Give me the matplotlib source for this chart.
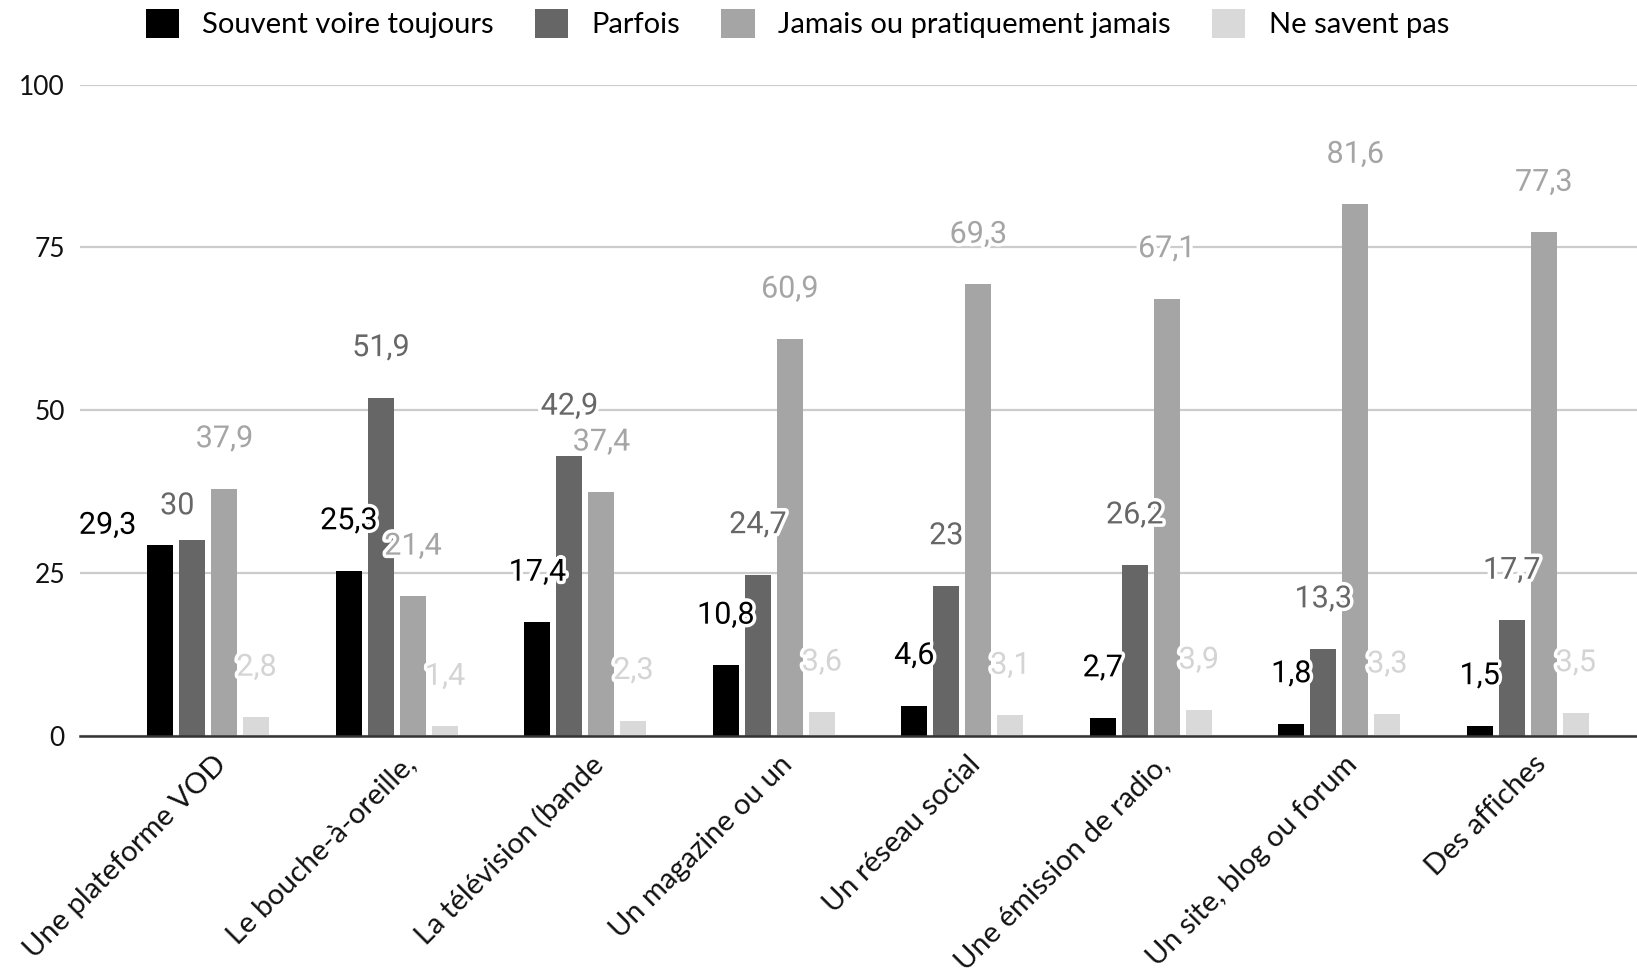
import numpy as np
import matplotlib
matplotlib.use('Agg')
import matplotlib.pyplot as plt
import matplotlib.patheffects as pe
from matplotlib.patches import Patch
from matplotlib.transforms import ScaledTranslation

# DONNEES
categories = ['Une plateforme VOD', 'Le bouche-à-oreille,', 'La télévision (bande',
              'Un magazine ou un', 'Un réseau social', 'Une émission de radio,',
              'Un site, blog ou forum', 'Des affiches']
series_names = ['Souvent voire toujours', 'Parfois',
                'Jamais ou pratiquement jamais', 'Ne savent pas']
souvent = [29.3, 25.3, 17.4, 10.8, 4.6, 2.7, 1.8, 1.5]
parfois = [30, 51.9, 42.9, 24.7, 23, 26.2, 13.3, 17.7]
jamais = [37.9, 21.4, 37.4, 60.9, 69.3, 67.1, 81.6, 77.3]
ne_savent_pas = [2.8, 1.4, 2.3, 3.6, 3.1, 3.9, 3.3, 3.5]
yticks = [0, 25, 50, 75, 100]

series = [souvent, parfois, jamais, ne_savent_pas]
bar_colors = ['#000000', '#666666', '#a5a5a5', '#d9d9d9']
label_colors = ['#000000', '#676767', '#a5a5a5', '#d4d4d4']

# decalages des etiquettes qui se chevauchent (serie, groupe) -> (dx, dy)
label_shift = {(0, 0): (-0.28, -4.7), (1, 0): (-0.08, -2.4)}

fig = plt.figure(figsize=(16.37, 9.73), dpi=100)
ax = fig.add_axes([0.049, 0.244, 0.951, 0.669])

x = np.arange(len(categories))
pitch = 0.17
width = 0.138

for s, vals in enumerate(series):
    pos = x + (s - 1.5) * pitch
    ax.bar(pos, vals, width=width, color=bar_colors[s], zorder=3)
    for g, v in enumerate(vals):
        dx, dy = label_shift.get((s, g), (0, 0))
        txt = ('%g' % v).replace('.', ',')
        ax.text(pos[g] + dx, v + 7.7 + dy, txt, ha='center', va='center',
                fontsize=22, family='Roboto', color=label_colors[s], zorder=5,
                path_effects=[pe.withStroke(linewidth=5, foreground='white')])

ax.set_xlim(-0.68, 7.58)
ax.set_ylim(0, 100)
ax.set_yticks(yticks)
ax.set_yticklabels([str(t) for t in yticks], family='Lato', fontsize=19, color='#111111')
ax.yaxis.grid(True, color='#cccccc', linewidth=1.6, zorder=0)
ax.set_axisbelow(True)
ax.tick_params(axis='y', length=0, pad=11)
ax.tick_params(axis='x', length=0, pad=11)

for sp in ['top', 'right', 'left']:
    ax.spines[sp].set_visible(False)
ax.spines['bottom'].set_color('#333333')
ax.spines['bottom'].set_linewidth(1.8)
ax.spines['bottom'].set_zorder(4)

ax.set_xticks(x)
ax.set_xticklabels(categories, rotation=45, ha='right', va='top',
                   rotation_mode='anchor', family='Lato', fontsize=21, color='#111111')
for lab in ax.get_xticklabels():
    lab.set_transform(lab.get_transform() + ScaledTranslation(0.05, 0, fig.dpi_scale_trans))

handles = [Patch(facecolor=c, edgecolor='none') for c in bar_colors]
fig.legend(handles, series_names, loc='center', bbox_to_anchor=(0.487, 0.976),
           ncol=4, frameon=False, prop={'family': 'Lato', 'size': 21},
           handlelength=1.15, handleheight=1.15, handletextpad=0.8, columnspacing=1.4)

plt.savefig('out.png', dpi=100)
